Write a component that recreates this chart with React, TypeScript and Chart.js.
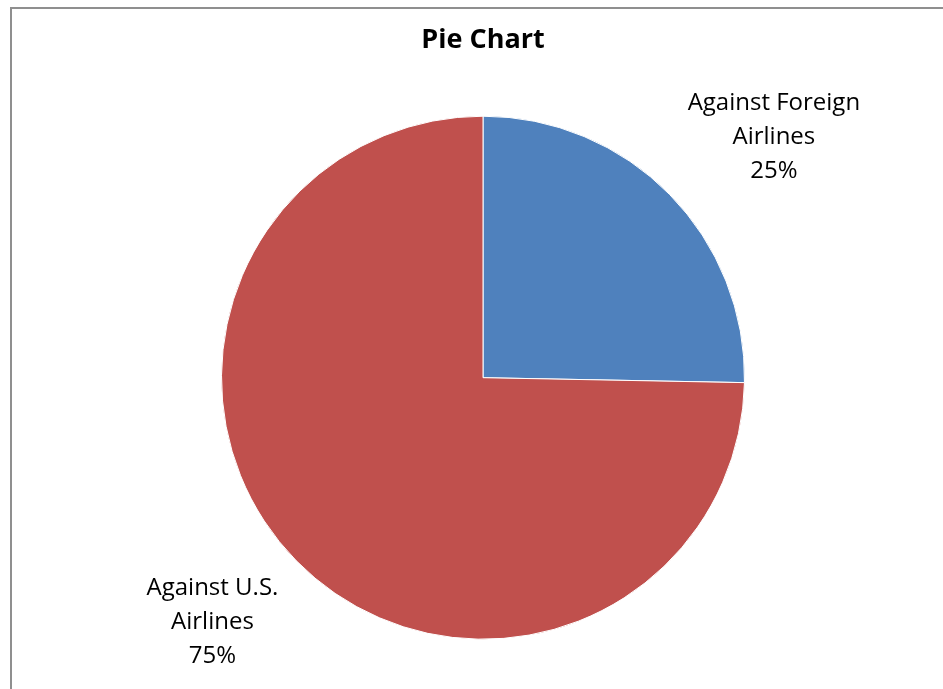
import React, { useEffect, useRef } from "react";
import { Chart, registerables } from "chart.js";

Chart.register(...registerables);

const TITLE = "Pie Chart";
const categories = ["Against Foreign Airlines", "Against U.S. Airlines"];
const labelLines = [["Against Foreign", "Airlines"], ["Against U.S.", "Airlines"]];
const values = [25.3, 74.7];
const colors = ["#4F81BD", "#C0504D"];

const FONT = "'Open Sans', 'Noto Sans', sans-serif";

const labelPlugin = {
  id: "outsideLabels",
  afterDatasetsDraw(chart: any) {
    const ctx = chart.ctx;
    const meta = chart.getDatasetMeta(0);
    const total = values.reduce((a, b) => a + b, 0);
    const fontSize = 24;
    const lineH = 34;
    ctx.save();
    ctx.font = `${fontSize}px ${FONT}`;
    ctx.fillStyle = "#000";
    ctx.textAlign = "center";
    ctx.textBaseline = "middle";
    meta.data.forEach((arc: any, i: number) => {
      const p = arc.getProps(["x", "y", "startAngle", "endAngle", "outerRadius"], true);
      const mid = (p.startAngle + p.endAngle) / 2;
      const cx = p.x + Math.cos(mid) * p.outerRadius;
      const cy = p.y + Math.sin(mid) * p.outerRadius;
      const lines = [...labelLines[i], Math.round((values[i] / total) * 100) + "%"];
      const w = Math.max(...lines.map((l) => ctx.measureText(l).width));
      const h = lines.length * lineH;
      const right = Math.cos(mid) >= 0;
      const down = Math.sin(mid) >= 0;
      const bx = right ? cx + 18 : cx - 18 - w;
      const by = down ? cy + 10 : cy - 6 - h;
      lines.forEach((l, k) => {
        ctx.fillText(l, bx + w / 2, by + lineH * k + lineH / 2);
      });
    });
    ctx.restore();
  },
};

export default function App() {
  const ref = useRef<HTMLCanvasElement>(null);
  useEffect(() => {
    if (!ref.current) return;
    const chart = new Chart(ref.current, {
      type: "pie",
      data: {
        labels: categories,
        datasets: [
          {
            data: values,
            backgroundColor: colors,
            borderColor: "#ffffff",
            borderWidth: 1,
          },
        ],
      },
      options: {
        animation: false,
        responsive: false,
        maintainAspectRatio: false,
        layout: { padding: { top: 0, bottom: 49, left: 221, right: 198 } },
        plugins: {
          legend: { display: false },
          tooltip: { enabled: false },
          title: {
            display: true,
            text: TITLE,
            color: "#000",
            font: { family: FONT, size: 27, weight: "bold", lineHeight: 1.2 },
            padding: { top: 24, bottom: 59 },
          },
        },
      },
      plugins: [labelPlugin],
    });
    return () => chart.destroy();
  }, []);
  return (
    <div style={{ position: "absolute", left: 0, top: 0, width: 943, height: 689, background: "#fff", overflow: "hidden" }}>
      <div
        style={{
          position: "absolute",
          left: 10,
          top: 7,
          right: -30,
          bottom: -30,
          borderLeft: "2px solid #8f8f8f",
          borderTop: "2px solid #8f8f8f",
        }}
      />
      <canvas ref={ref} width={943} height={689} style={{ position: "absolute", left: 0, top: 0 }} />
    </div>
  );
}
